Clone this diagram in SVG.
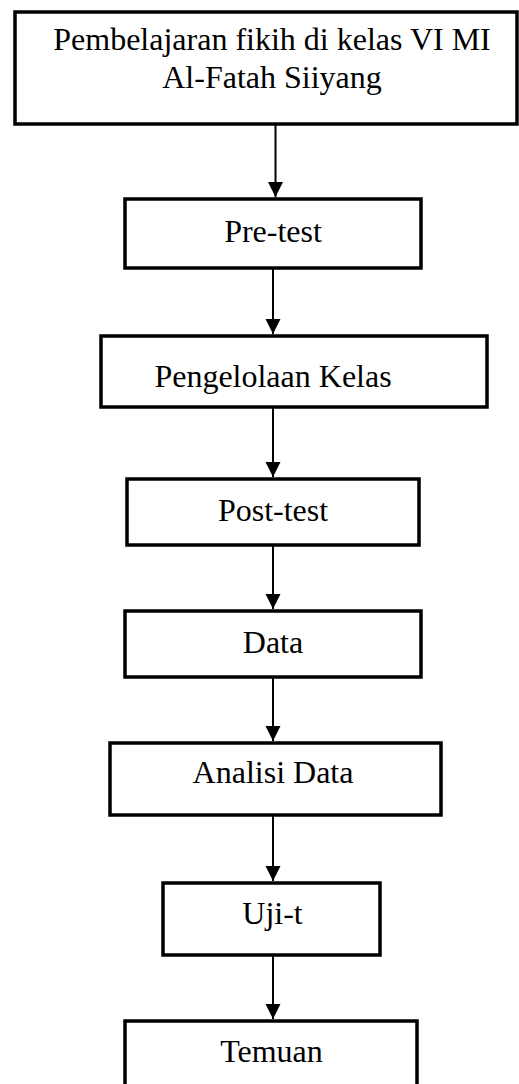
<svg xmlns="http://www.w3.org/2000/svg" width="519" height="1084" viewBox="0 0 519 1084">
<style>
.box{fill:#fff;stroke:#000;stroke-width:3.5}
.lbl{font-family:"Liberation Serif","Times New Roman",serif;font-size:32px;fill:#000;text-anchor:middle}
.con{stroke:#000;stroke-width:2;fill:none}
</style>
<defs>
<marker id="ah" markerUnits="userSpaceOnUse" markerWidth="16" markerHeight="16" refX="15" refY="7.5" orient="auto">
<path d="M0,0 L15,7.5 L0,15 Z" fill="#000"/>
</marker>
</defs>
<g id="n1"><rect class="box" x="15" y="12" width="502" height="112"/>
<text class="lbl" x="272" y="50">Pembelajaran fikih di kelas VI MI</text>
<text class="lbl" x="272" y="88">Al-Fatah Siiyang</text></g>
<g id="n2"><rect class="box" x="125" y="199" width="296" height="69"/><text class="lbl" x="273" y="242">Pre-test</text></g>
<g id="n3"><rect class="box" x="101" y="336" width="386" height="71"/><text class="lbl" x="273" y="387">Pengelolaan Kelas</text></g>
<g id="n4"><rect class="box" x="127" y="479" width="292" height="66"/><text class="lbl" x="273" y="521">Post-test</text></g>
<g id="n5"><rect class="box" x="125" y="611" width="296" height="66"/><text class="lbl" x="273" y="653">Data</text></g>
<g id="n6"><rect class="box" x="110" y="743" width="331" height="72"/><text class="lbl" x="273" y="783">Analisi Data</text></g>
<g id="n7"><rect class="box" x="163" y="883" width="217" height="72"/><text class="lbl" x="272.5" y="924">Uji-t</text></g>
<g id="n8"><rect class="box" x="125" y="1021" width="292" height="80"/><text class="lbl" x="271.5" y="1062">Temuan</text></g>
<g id="connectors">
<line class="con" x1="275.5" y1="125" x2="275.5" y2="197" marker-end="url(#ah)"/>
<line class="con" x1="273" y1="269" x2="273" y2="334" marker-end="url(#ah)"/>
<line class="con" x1="273" y1="408" x2="273" y2="477" marker-end="url(#ah)"/>
<line class="con" x1="273" y1="546" x2="273" y2="609" marker-end="url(#ah)"/>
<line class="con" x1="273" y1="678" x2="273" y2="741" marker-end="url(#ah)"/>
<line class="con" x1="273" y1="816" x2="273" y2="881" marker-end="url(#ah)"/>
<line class="con" x1="273" y1="956" x2="273" y2="1019" marker-end="url(#ah)"/>
</g>
</svg>
